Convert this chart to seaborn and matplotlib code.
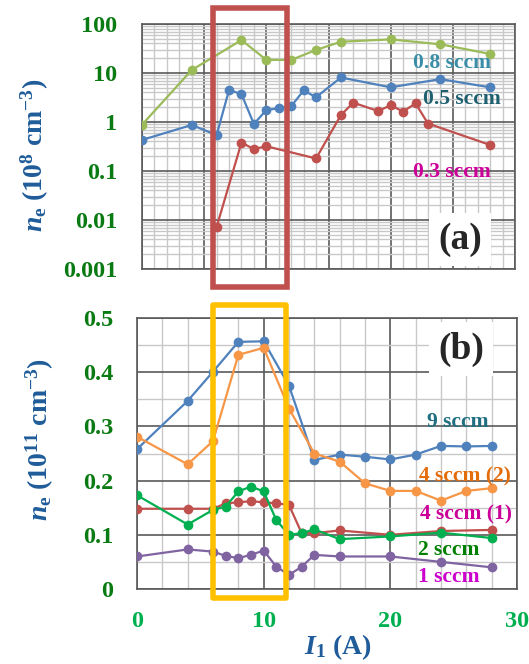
import numpy as np
import pandas as pd
import matplotlib
matplotlib.use("Agg")
import matplotlib.pyplot as plt
import matplotlib.ticker as mticker
import matplotlib.transforms as mtrans
from matplotlib.patches import Rectangle
import seaborn as sns

# ---------------- data ----------------
# panel (a): n_e in 1e8 cm^-3 (log scale)
a_x_08 = [0, 4, 8, 10, 12, 14, 16, 20, 24, 28]
a_y_08 = [0.88, 11.5, 47, 18.5, 18.5, 29.5, 43.5, 48.5, 38.5, 24.5]
a_x_05 = [0, 4, 6, 7, 8, 9, 10, 11, 12, 13, 14, 16, 20, 24, 28]
a_y_05 = [0.43, 0.87, 0.54, 4.5, 3.7, 0.91, 1.76, 1.9, 2.1, 4.4, 3.2, 8.1, 5.1, 7.5, 5.1]
a_x_03 = [6, 8, 9, 10, 14, 16, 17, 19, 20, 21, 22, 23, 28]
a_y_03 = [0.0072, 0.38, 0.28, 0.32, 0.18, 1.39, 2.48, 1.67, 2.2, 1.63, 2.4, 0.93, 0.34]

# panel (b): n_e in 1e11 cm^-3
b_x_9 = [0, 4, 6, 8, 10, 12, 14, 16, 18, 20, 22, 24, 26, 28]
b_y_9 = [0.258, 0.347, 0.401, 0.456, 0.457, 0.375, 0.238, 0.248, 0.244, 0.239, 0.248, 0.264, 0.263, 0.264]
b_x_4b = [0, 4, 6, 8, 10, 12, 14, 16, 18, 20, 22, 24, 26, 28]
b_y_4b = [0.281, 0.230, 0.273, 0.432, 0.445, 0.333, 0.250, 0.235, 0.195, 0.181, 0.181, 0.163, 0.181, 0.186]
b_x_4a = [0, 4, 6, 7, 8, 9, 10, 11, 12, 13, 14, 16, 20, 24, 28]
b_y_4a = [0.148, 0.148, 0.148, 0.158, 0.160, 0.162, 0.160, 0.158, 0.155, 0.103, 0.103, 0.108, 0.100, 0.107, 0.109]
b_x_2 = [0, 4, 6, 7, 8, 9, 10, 11, 12, 13, 14, 16, 20, 24, 28]
b_y_2 = [0.173, 0.119, 0.146, 0.152, 0.180, 0.189, 0.180, 0.127, 0.100, 0.103, 0.110, 0.092, 0.097, 0.104, 0.094]
b_x_1 = [0, 4, 6, 7, 8, 9, 10, 11, 12, 13, 14, 16, 20, 24, 28]
b_y_1 = [0.060, 0.073, 0.069, 0.061, 0.057, 0.063, 0.071, 0.041, 0.026, 0.041, 0.063, 0.060, 0.060, 0.050, 0.040]

a_series = [("0.8 sccm", a_x_08, a_y_08, "#9BBB59"),
            ("0.5 sccm", a_x_05, a_y_05, "#4F81BD"),
            ("0.3 sccm", a_x_03, a_y_03, "#C0504D")]
b_series = [("9 sccm", b_x_9, b_y_9, "#4F81BD"),
            ("4 sccm (2)", b_x_4b, b_y_4b, "#F79646"),
            ("4 sccm (1)", b_x_4a, b_y_4a, "#C0504D"),
            ("2 sccm", b_x_2, b_y_2, "#00B050"),
            ("1 sccm", b_x_1, b_y_1, "#8064A2")]

a_ytick_vals = [0.001, 0.01, 0.1, 1, 10, 100]
a_ytick_labels = ["0.001", "0.01", "0.1", "1", "10", "100"]
b_ytick_vals = [0, 0.1, 0.2, 0.3, 0.4, 0.5]
b_ytick_labels = ["0", "0.1", "0.2", "0.3", "0.4", "0.5"]
b_xtick_vals = [0, 10, 20, 30]
b_xtick_labels = ["0", "10", "20", "30"]

# ---------------- style ----------------
sns.set_theme(style="white")
plt.rcParams['font.family'] = ['Liberation Serif', 'DejaVu Serif']
plt.rcParams['font.weight'] = 'bold'
plt.rcParams['axes.labelweight'] = 'bold'
plt.rcParams['mathtext.fontset'] = 'custom'
plt.rcParams['mathtext.rm'] = 'Liberation Serif:bold'
plt.rcParams['mathtext.bf'] = 'Liberation Serif:bold'
plt.rcParams['mathtext.it'] = 'Liberation Serif:italic:bold'

fig = plt.figure(figsize=(5.29, 6.64), dpi=100)
fig.patch.set_facecolor("white")
axA = fig.add_axes([142/529, 1-269/664, 373/529, 245/664])
axB = fig.add_axes([137/529, 1-589/664, 380/529, 271/664])

tick_green = "#0A7A12"
x_green = "#00B050"
lab_blue = "#1F5C99"
major_c = "#5A5A5A"
minor_c = "#C8C8C8"

def draw(ax, series):
    for name, xs, ys, col in series:
        df = pd.DataFrame({"x": xs, "y": ys})
        sns.lineplot(data=df, x="x", y="y", ax=ax, color=col, marker="o",
                     markersize=7, markeredgewidth=0, linewidth=1.6, zorder=3)

# panel (a)
axA.set_yscale("log")
draw(axA, a_series)
axA.set_xlim(0, 30)
axA.set_ylim(0.001, 100)
axA.xaxis.set_major_locator(mticker.MultipleLocator(5))
axA.xaxis.set_minor_locator(mticker.MultipleLocator(1))
axA.yaxis.set_major_locator(mticker.FixedLocator(a_ytick_vals))
axA.yaxis.set_major_formatter(mticker.FixedFormatter(a_ytick_labels))
axA.yaxis.set_minor_locator(mticker.LogLocator(base=10, subs=np.arange(2, 10)))
axA.yaxis.set_minor_formatter(mticker.NullFormatter())
axA.set_xticklabels([])
axA.tick_params(axis="both", which="both", length=0)
axA.tick_params(axis="y", labelsize=17.5, labelcolor=tick_green, pad=18)

# panel (b)
draw(axB, b_series)
axB.set_xlim(0, 30)
axB.set_ylim(0, 0.5)
axB.set_xticks(b_xtick_vals)
axB.set_xticklabels(b_xtick_labels)
axB.xaxis.set_minor_locator(mticker.MultipleLocator(2))
axB.set_yticks(b_ytick_vals)
axB.set_yticklabels(b_ytick_labels)
axB.yaxis.set_minor_locator(mticker.MultipleLocator(0.05))
axB.tick_params(axis="both", which="both", length=0)
axB.tick_params(axis="y", labelsize=17.5, labelcolor=tick_green, pad=17)
axB.tick_params(axis="x", labelsize=17.5, labelcolor=x_green, pad=16)

for ax in (axA, axB):
    ax.set_axisbelow(True)
    ax.grid(which="minor", color=minor_c, linewidth=1.0)
    ax.grid(which="major", color=major_c, linewidth=1.2)
    for s in ax.spines.values():
        s.set_color(major_c)
        s.set_linewidth(1.2)
    for lab in ax.get_xticklabels() + ax.get_yticklabels():
        lab.set_fontweight("bold")

axA.set_xlabel("")
axA.set_ylabel(r"$n_\mathrm{e}$ (10$^{8}$ cm$^{-3}$)", fontsize=20,
               color=lab_blue, fontweight="bold")
axB.set_ylabel(r"$n_\mathrm{e}$ (10$^{11}$ cm$^{-3}$)", fontsize=20,
               color=lab_blue, fontweight="bold")
axB.set_xlabel(r"$I_\mathrm{1}$ (A)", fontsize=20, color=lab_blue,
               fontweight="bold")
axA.yaxis.set_label_coords(-0.245, 0.465)
axB.yaxis.set_label_coords(-0.212, 0.55)
axB.xaxis.set_label_coords(0.529, -0.215)
axB.xaxis.label.set_va("center")

# series labels
fs = 15.5
axA.text(24.9, 16, "0.8 sccm", color="#3A8DA6", fontsize=fs, fontweight="bold",
         ha="center", va="center", zorder=4)
axA.text(25.7, 2.95, "0.5 sccm", color="#1F6070", fontsize=fs, fontweight="bold",
         ha="center", va="center", zorder=4)
axA.text(24.9, 0.095, "0.3 sccm", color="#CC0099", fontsize=fs, fontweight="bold",
         ha="center", va="center", zorder=4)

axB.text(25.3, 0.308, "9 sccm", color="#1F6F80", fontsize=fs, fontweight="bold",
         ha="center", va="center", zorder=4)
axB.text(25.9, 0.207, "4 sccm (2)", color="#E46C0A", fontsize=fs, fontweight="bold",
         ha="center", va="center", zorder=4)
axB.text(26.0, 0.137, "4 sccm (1)", color="#CC0099", fontsize=fs, fontweight="bold",
         ha="center", va="center", zorder=4)
axB.text(24.6, 0.072, "2 sccm", color="#008000", fontsize=fs, fontweight="bold",
         ha="center", va="center", zorder=4)
axB.text(24.6, 0.022, "1 sccm", color="#CC00CC", fontsize=fs, fontweight="bold",
         ha="center", va="center", zorder=4)

box = dict(facecolor="white", edgecolor="none", boxstyle="square,pad=0.25")
axA.text(0.853, 0.12, "(a)", transform=axA.transAxes, fontsize=27,
         fontweight="bold", ha="center", va="center", bbox=box, zorder=5)
axB.text(0.853, 0.885, "(b)", transform=axB.transAxes, fontsize=27,
         fontweight="bold", ha="center", va="center", bbox=box, zorder=5)

# highlight rectangles
trA = mtrans.blended_transform_factory(axA.transData, axA.transAxes)
axA.add_patch(Rectangle((5.7, -0.073), 11.67 - 5.7, 1.065 + 0.073, transform=trA,
                        fill=False, edgecolor="#C0504D", linewidth=4,
                        clip_on=False, zorder=6))
trB = mtrans.blended_transform_factory(axB.transData, axB.transAxes)
axB.add_patch(Rectangle((6.0, -0.033), 11.76 - 6.0, 1.048 + 0.033, transform=trB,
                        fill=False, edgecolor="#FFC000", linewidth=4,
                        clip_on=False, zorder=6, joinstyle="round"))

fig.savefig("out.png", dpi=100, facecolor="white")
